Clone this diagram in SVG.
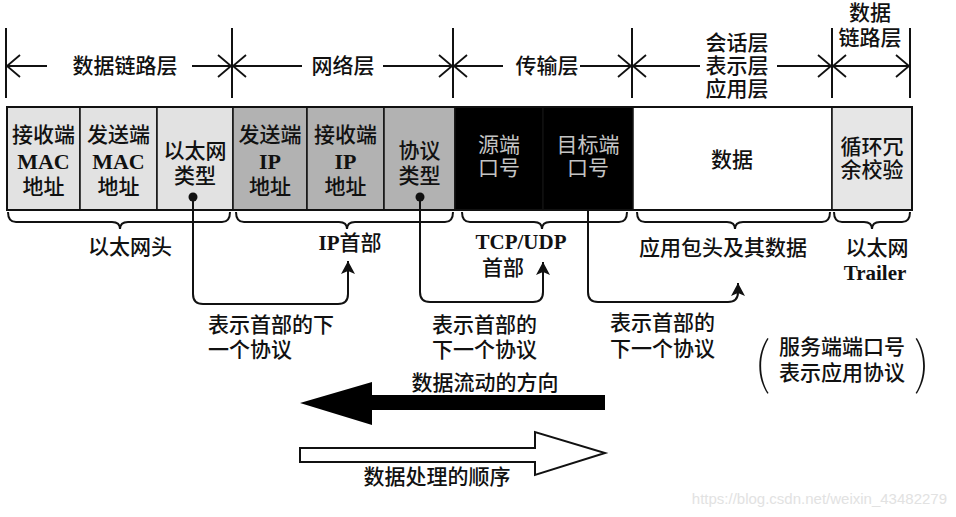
<svg xmlns="http://www.w3.org/2000/svg" width="956" height="517" viewBox="0 0 956 517">
<style>
text{font-family:"Liberation Serif","Noto Sans CJK SC",serif;font-size:21px;font-weight:500;fill:#111;dominant-baseline:central}
.c{text-anchor:middle}
.cell{font-size:21px;text-anchor:middle}
.lat{font-size:22px;font-weight:700}
.latb{font-weight:700}
.inv{fill:#c4c4c4;font-weight:400}
.paren{font-family:"Noto Sans CJK SC",sans-serif;font-size:56px;font-weight:100;text-anchor:middle}
.tick{stroke:#111;stroke-width:2}
.lay{stroke:#111;stroke-width:1.8;fill:none;marker-end:url(#open)}
.brace{stroke:#111;stroke-width:2;fill:none}
.conn{stroke:#111;stroke-width:2;fill:none;marker-end:url(#solid)}
.box{stroke:#111;stroke-width:1.5}
</style>
<defs>
<marker id="open" markerUnits="userSpaceOnUse" markerWidth="30" markerHeight="30" viewBox="-20 -15 30 30" refX="0" refY="0" orient="auto-start-reverse">
<path d="M-13,-11 L0,0 L-13,11" fill="none" stroke="#111" stroke-width="1.8"/>
</marker>
<marker id="solid" markerUnits="userSpaceOnUse" markerWidth="20" markerHeight="20" viewBox="-15 -10 20 20" refX="0" refY="0" orient="auto">
<path d="M0,0 L-13,-7 L-10,0 L-13,7 Z" fill="#111"/>
</marker>
</defs>
<rect width="956" height="517" fill="#fff"/>

<g id="layers">
<line class="tick" x1="6" y1="28" x2="6" y2="98"/>
<line class="tick" x1="232" y1="28" x2="232" y2="98"/>
<line class="tick" x1="453" y1="28" x2="453" y2="98"/>
<line class="tick" x1="632" y1="28" x2="632" y2="98"/>
<line class="tick" x1="832" y1="28" x2="832" y2="98"/>
<line class="tick" x1="910" y1="28" x2="910" y2="98"/>
</g>
<g id="layer-datalink">
<line class="lay" x1="47" y1="66" x2="7" y2="66"/>
<line class="lay" x1="192" y1="66" x2="231" y2="66"/>
<text class="c" x="125" y="66">数据链路层</text>
</g>
<g id="layer-network">
<line class="lay" x1="302" y1="66" x2="233" y2="66"/>
<line class="lay" x1="383" y1="66" x2="452" y2="66"/>
<text class="c" x="343" y="66">网络层</text>
</g>
<g id="layer-transport">
<line class="lay" x1="503" y1="66" x2="454" y2="66"/>
<line class="lay" x1="580" y1="66" x2="631" y2="66"/>
<text class="c" x="547" y="66">传输层</text>
</g>
<g id="layer-app">
<line class="lay" x1="700" y1="66" x2="633" y2="66"/>
<line class="lay" x1="777" y1="66" x2="831" y2="66"/>
<text class="c" x="737" y="43">会话层</text>
<text class="c" x="737" y="66">表示层</text>
<text class="c" x="737" y="89">应用层</text>
</g>
<g id="layer-datalink2">
<line class="lay" x1="833" y1="66" x2="909" y2="66" style="marker-start:url(#open)"/>
<text class="c" x="870" y="13">数据</text>
<text class="c" x="870" y="38">链路层</text>
</g>

<g id="cell-dst-mac">
<rect class="box" x="7" y="107" width="73" height="103" fill="#e2e2e2"/>
<text class="cell" x="43.5" y="135">接收端</text>
<text class="cell lat" x="43.5" y="161">MAC</text>
<text class="cell" x="43.5" y="187">地址</text>
</g>
<g id="cell-src-mac">
<rect class="box" x="80" y="107" width="77" height="103" fill="#e2e2e2"/>
<text class="cell" x="118.5" y="135">发送端</text>
<text class="cell lat" x="118.5" y="161">MAC</text>
<text class="cell" x="118.5" y="187">地址</text>
</g>
<g id="cell-eth-type">
<rect class="box" x="157" y="107" width="76" height="103" fill="#e2e2e2"/>
<text class="cell" x="195" y="151">以太网</text>
<text class="cell" x="195" y="176">类型</text>
</g>
<g id="cell-src-ip">
<rect class="box" x="233" y="107" width="74" height="103" fill="#b2b2b2"/>
<text class="cell" x="270" y="135">发送端</text>
<text class="cell lat" x="270" y="161">IP</text>
<text class="cell" x="270" y="187">地址</text>
</g>
<g id="cell-dst-ip">
<rect class="box" x="307" y="107" width="77" height="103" fill="#b2b2b2"/>
<text class="cell" x="345.5" y="135">接收端</text>
<text class="cell lat" x="345.5" y="161">IP</text>
<text class="cell" x="345.5" y="187">地址</text>
</g>
<g id="cell-proto">
<rect class="box" x="384" y="107" width="71" height="103" fill="#b2b2b2"/>
<text class="cell" x="419.5" y="151">协议</text>
<text class="cell" x="419.5" y="176">类型</text>
</g>
<g id="cell-src-port">
<rect class="box" x="455" y="107" width="88" height="103" fill="#000"/>
<text class="cell inv" x="499" y="145">源端</text>
<text class="cell inv" x="499" y="168">口号</text>
</g>
<g id="cell-dst-port">
<rect class="box" x="543" y="107" width="90" height="103" fill="#000" stroke="#444"/>
<text class="cell inv" x="588" y="145">目标端</text>
<text class="cell inv" x="588" y="168">口号</text>
</g>
<g id="cell-data">
<rect class="box" x="633" y="107" width="199" height="103" fill="#fff"/>
<text class="cell" x="732" y="160">数据</text>
</g>
<g id="cell-crc">
<rect class="box" x="832" y="107" width="80" height="103" fill="#e6e6e6"/>
<text class="cell" x="872" y="147">循环冗</text>
<text class="cell" x="872" y="170">余校验</text>
</g>
<rect x="7" y="107" width="905" height="103" fill="none" stroke="#111" stroke-width="2"/>

<g id="brace-eth">
<path class="brace" d="M8,212 Q8,222 16,222 H112 Q120,222 120,229 Q120,222 128,222 H222 Q230,222 230,212"/>
<text class="c" x="130" y="247">以太网头</text>
</g>
<g id="brace-ip">
<path class="brace" d="M236,212 Q236,222 244,222 H339 Q347,222 347,229 Q347,222 355,222 H445 Q453,222 453,212"/>
<text class="c" x="350" y="243"><tspan class="latb">IP</tspan>首部</text>
</g>
<g id="brace-tcp">
<path class="brace" d="M462,212 Q462,222 470,222 H534 Q542,222 542,229 Q542,222 550,222 H619 Q627,222 627,212"/>
<text class="c latb" x="521" y="242">TCP/UDP</text>
<text class="c" x="503" y="268">首部</text>
</g>
<g id="brace-app">
<path class="brace" d="M637,212 Q637,222 645,222 H727 Q735,222 735,229 Q735,222 743,222 H822 Q830,222 830,212"/>
<text class="c" x="723" y="248">应用包头及其数据</text>
</g>
<g id="brace-trailer">
<path class="brace" d="M834,212 Q834,222 842,222 H864 Q872,222 872,229 Q872,222 880,222 H902 Q910,222 910,212"/>
<text class="c" x="877" y="248">以太网</text>
<text class="c latb" x="875" y="273">Trailer</text>
</g>

<g id="connectors">
<circle cx="193" cy="197" r="4.5" fill="#111"/>
<path class="conn" d="M193,197 V294 Q193,304 203,304 H338 Q348,304 348,294 V261"/>
<circle cx="420" cy="197" r="4.5" fill="#111"/>
<path class="conn" d="M420,197 V292 Q420,302 430,302 H533 Q543,302 543,292 V262"/>
<path class="conn" d="M588,210 V292 Q588,302 598,302 H728 Q738,302 738,292 V283"/>
</g>

<g id="label-next1">
<text x="208" y="325">表示首部的下</text>
<text x="208" y="350">一个协议</text>
</g>
<g id="label-next2">
<text x="432" y="325">表示首部的</text>
<text x="432" y="350">下一个协议</text>
</g>
<g id="label-next3">
<text x="610" y="323">表示首部的</text>
<text x="610" y="349">下一个协议</text>
</g>
<g id="label-server">
<text class="paren" x="762" y="358">(</text>
<text class="c" x="842" y="347">服务端端口号</text>
<text class="c" x="842" y="373">表示应用协议</text>
<text class="paren" x="922" y="358">)</text>
</g>

<g id="arrow-flow">
<polygon points="300,403 372,382 372,395 605,395 605,410 372,410 372,425" fill="#000"/>
<text class="c" x="485" y="383">数据流动的方向</text>
</g>
<g id="arrow-process">
<polygon points="300,448 535,448 535,432 605,453 535,475 535,462 300,462" fill="#fff" stroke="#111" stroke-width="2"/>
<text class="c" x="437" y="477">数据处理的顺序</text>
</g>

<text x="947" y="498" style="font-family:'Liberation Sans',sans-serif;font-size:15px;font-weight:400;fill:#e2e2e2;text-anchor:end">https://blog.csdn.net/weixin_43482279</text>
</svg>
